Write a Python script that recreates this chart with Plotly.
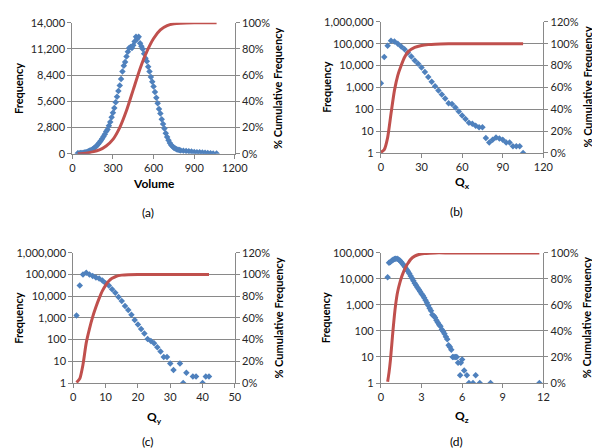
import plotly.graph_objects as go

# ---------------- DATA ----------------
# (a) Volume
vol_x = [40, 50, 60, 70, 80, 90, 100, 110, 120, 130, 140, 150, 160, 170, 180, 190, 200,
         210, 220, 230, 240, 250, 260, 270, 280, 290, 300, 310, 320, 330, 340, 350, 360,
         370, 380, 390, 400, 410, 420, 430, 440, 450, 460, 470, 480, 490, 500, 510, 520,
         530, 540, 550, 560, 570, 580, 590, 600, 610, 620, 630, 640, 650, 660, 670, 680,
         690, 700, 710, 720, 730, 740, 750, 760, 770, 780, 790, 800, 820, 840, 860, 880,
         900, 920, 940, 960, 980, 1000, 1020, 1040, 1065]
vol_freq = [60, 70, 80, 100, 120, 150, 180, 220, 280, 350, 420, 500, 600, 720, 860, 1020, 1200,
            1400, 1600, 1850, 2100, 2400, 2600, 3000, 3400, 3900, 4400, 4900, 5500, 6100, 6700, 7300, 8000,
            8800, 9400, 9800, 10400, 10900, 11300, 11400, 11300, 11600, 12000, 12500, 12300, 12500, 11800, 11500, 11200,
            10700, 10200, 9900, 9300, 8800, 8200, 7700, 7200, 6600, 6000, 5400, 4800, 4300, 3700, 3200, 2700,
            2200, 1800, 1450, 1150, 950, 780, 650, 560, 490, 440, 400, 370, 330, 300, 270, 240,
            210, 180, 160, 140, 110, 90, 70, 50, 30]
vol_cum_x = [40, 100, 150, 200, 250, 300, 350, 400, 450, 500, 550, 600, 650, 700, 750, 800, 900, 1000, 1065]
vol_cum_pct = [0, 0.5, 1.5, 3, 6, 11, 20, 33, 49, 65, 78, 88, 94.5, 97.8, 99.2, 99.7, 100, 100, 100]

# (b) Qx
qx_x = [0, 2.5, 5, 7.5, 10, 12.5, 15, 17.5, 20, 22.5, 25, 27.5, 30, 32.5, 35, 37.5, 40, 42.5,
        45, 47.5, 50, 52.5, 55, 57.5, 60, 62.5, 65, 67.5, 70, 72.5, 75, 77.5, 80, 82.5, 85,
        87.5, 90, 92.5, 95, 97.5, 100, 102.5, 105]
qx_freq = [1550, 24500, 80000, 134000, 126000, 100000, 75000, 55000, 38000, 26000, 17000, 12000,
           8200, 5000, 3000, 1800, 1130, 720, 465, 310, 185, 172, 118, 79, 52, 36, 24, 21.5, 17.5,
           15, 15, 4.8, 3, 4, 5, 4.5, 4, 3, 3, 2, 2, 2, 1]
qx_cum_x = [0, 2.5, 5, 7.5, 10, 12.5, 15, 17.5, 20, 25, 30, 35, 40, 50, 60, 80, 105]
qx_cum_pct = [0.5, 3, 14, 36, 57, 71, 80, 87.5, 92.5, 96.5, 98.3, 99.1, 99.5, 99.8, 99.9, 100, 100]

# (c) Qy
qy_x = [1, 2, 3, 4, 5, 6, 7, 8, 9, 10, 11, 12, 13, 14, 15, 16, 17, 18, 19, 20, 21, 22, 23, 24,
        25, 26, 27, 28, 29, 30, 31, 33, 34, 35, 37, 38, 40, 41, 42]
qy_freq = [1300, 31000, 100000, 120000, 100000, 85000, 74000, 66000, 54000, 40000, 31000, 21000,
           14500, 9300, 6000, 3550, 2300, 1400, 810, 500, 310, 190, 107, 87, 69, 45, 28, 16, 16,
           8, 4, 8, 1, 3, 2, 2, 1, 2, 2]
qy_cum_x = [1, 2, 3, 4, 5, 6, 7, 8, 9, 10, 11, 12, 13, 14, 15, 17, 20, 30, 42]
qy_cum_pct = [0.5, 4, 17, 37, 50, 61, 70, 78, 85, 90, 94, 96.5, 98, 99, 99.5, 99.9, 100, 100, 100]

# (d) Qz
qz_x = [0.5, 0.6, 0.7, 0.8, 0.9, 1.0, 1.1, 1.2, 1.3, 1.4, 1.5, 1.6, 1.7, 1.8, 1.9, 2.0, 2.1, 2.2,
        2.3, 2.4, 2.5, 2.6, 2.7, 2.8, 2.9, 3.0, 3.1, 3.2, 3.3, 3.4, 3.5, 3.6, 3.7, 3.8, 3.9, 4.0,
        4.1, 4.2, 4.3, 4.4, 4.5, 4.6, 4.7, 4.8, 4.9, 5.0, 5.1, 5.2, 5.3, 5.4, 5.5, 5.6, 5.7, 5.85,
        5.9, 6.0, 6.15, 6.35, 6.5, 6.8, 7.0, 7.3, 8.1, 11.7]
qz_freq = [11700, 42000, 45000, 50000, 55000, 58000, 60000, 59000, 56000, 51000, 45000, 38000,
           33000, 28000, 23000, 19500, 16000, 13000, 10500, 8500, 6800, 5700, 4700, 3900, 3300,
           2700, 2300, 1900, 1500, 1200, 950, 750, 600, 420, 380, 330, 260, 210, 175, 150, 115,
           95, 78, 60, 48, 28, 24, 19, 10, 10, 10, 10, 6, 2, 6, 8, 3, 2, 1, 1, 2, 1, 1, 1]
qz_cum_x = [0.5, 0.6, 0.7, 0.8, 0.9, 1.0, 1.1, 1.2, 1.3, 1.4, 1.5, 1.6, 1.8, 2.0, 2.2, 2.5, 2.8,
            3.2, 3.6, 4.0, 5, 6, 8, 11.7]
qz_cum_pct = [1, 8, 17, 29, 41, 52, 61, 68, 73, 77, 80.5, 83.5, 88.5, 92, 95, 97.5, 98.8,
              99.5, 99.8, 100, 100, 100, 100, 100]

log_vals_6 = [1, 10, 100, 1000, 10000, 100000, 1000000]
log_text_6 = ["1", "10", "100", "1,000", "10,000", "100,000", "1,000,000"]

# ---------------- LAYOUT HELPERS ----------------
W, H = 600, 448
def px(x): return x / W
def py(y): return 1 - y / H

BLUE = "#4F81BD"
RED = "#C0504D"
GRID = "#898989"
FONT = "Lato"
TXT = "#262626"

fig = go.Figure()

panels = [
    (vol_x, vol_freq, vol_cum_x, vol_cum_pct, "x", "y", "y2"),
    (qx_x, qx_freq, qx_cum_x, qx_cum_pct, "x2", "y3", "y4"),
    (qy_x, qy_freq, qy_cum_x, qy_cum_pct, "x3", "y5", "y6"),
    (qz_x, qz_freq, qz_cum_x, qz_cum_pct, "x4", "y7", "y8"),
]
for xd, yd, cx, cy, xk, yk, y2k in panels:
    fig.add_trace(go.Scatter(x=xd, y=yd, mode="markers", xaxis=xk, yaxis=yk,
                             marker=dict(symbol="diamond", size=5, color=BLUE,
                                         line=dict(width=0)),
                             showlegend=False, hoverinfo="skip"))
    fig.add_trace(go.Scatter(x=cx, y=cy, mode="lines", xaxis=xk, yaxis=y2k,
                             line=dict(color=RED, width=3, shape="spline", smoothing=0.6),
                             showlegend=False, hoverinfo="skip"))

boxes = {
    "a": (63, 230, 8, 143),
    "b": (380, 547, 7, 142),
    "c": (64, 230, 245, 379),
    "d": (380, 547, 245, 379),
}

def xax(box, rng, dtick, anchor):
    l, r, t, b = box
    return dict(domain=[px(l), px(r)], anchor=anchor, range=rng, dtick=dtick,
                showgrid=False, zeroline=False, showline=True, linecolor=GRID, linewidth=1,
                ticks="outside", ticklen=4, tickcolor=GRID,
                tickfont=dict(family=FONT, size=11, color=TXT))

def yax(box, anchor, **kw):
    l, r, t, b = box
    d = dict(domain=[py(b), py(t)], anchor=anchor,
             showgrid=True, gridcolor=GRID, gridwidth=1, zeroline=False,
             showline=True, linecolor=GRID, linewidth=1,
             ticks="outside", ticklen=4, tickcolor=GRID,
             tickfont=dict(family=FONT, size=11, color=TXT))
    d.update(kw)
    return d

def y2ax(box, anchor, overlay, rng):
    return dict(overlaying=overlay, side="right", anchor=anchor, range=rng, dtick=20,
                ticksuffix="%", showgrid=False, zeroline=False,
                showline=True, linecolor=GRID, linewidth=1,
                ticks="outside", ticklen=4, tickcolor=GRID,
                tickfont=dict(family=FONT, size=11, color=TXT))

fig.update_layout(
    width=W, height=H, margin=dict(l=0, r=0, t=0, b=0),
    paper_bgcolor="white", plot_bgcolor="white",
    xaxis=xax(boxes["a"], [0, 1200], 300, "y"),
    yaxis=yax(boxes["a"], "x", range=[0, 14000], dtick=2800, tickformat=","),
    yaxis2=y2ax(boxes["a"], "x", "y", [0, 100]),
    xaxis2=xax(boxes["b"], [0, 120], 30, "y3"),
    yaxis3=yax(boxes["b"], "x2", type="log", range=[0, 6],
               tickvals=log_vals_6, ticktext=log_text_6),
    yaxis4=y2ax(boxes["b"], "x2", "y3", [0, 120]),
    xaxis3=xax(boxes["c"], [0, 50], 10, "y5"),
    yaxis5=yax(boxes["c"], "x3", type="log", range=[0, 6],
               tickvals=log_vals_6, ticktext=log_text_6),
    yaxis6=y2ax(boxes["c"], "x3", "y5", [0, 120]),
    xaxis4=xax(boxes["d"], [0, 12], 3, "y7"),
    yaxis7=yax(boxes["d"], "x4", type="log", range=[0, 5],
               tickvals=log_vals_6[:6], ticktext=log_text_6[:6]),
    yaxis8=y2ax(boxes["d"], "x4", "y7", [0, 100]),
)

ann = []
titles = [
    ("a", "Volume", 174, 8, 274, "(a)", 203),
    ("b", "Q<sub>x</sub>", 173, 324, 592, "(b)", 202),
    ("c", "Q<sub>y</sub>", 415, 8, 275, "(c)", 439),
    ("d", "Q<sub>z</sub>", 414, 324, 592, "(d)", 439),
]
for key, xt, xty, fx, cfx, lab, laby in titles:
    l, r, t, b = boxes[key]
    cxm = (l + r) / 2
    cym = (t + b) / 2
    ann.append(dict(x=px(cxm), y=py(xty), xref="paper", yref="paper", text="<b>%s</b>" % xt,
                    showarrow=False, font=dict(family=FONT, size=12, color="black"),
                    xanchor="center", yanchor="middle"))
    ann.append(dict(x=px(fx), y=py(cym), xref="paper", yref="paper", text="<b>Frequency</b>",
                    showarrow=False, textangle=-90, font=dict(family=FONT, size=11, color="black"),
                    xanchor="center", yanchor="middle"))
    ann.append(dict(x=px(cfx), y=py(cym), xref="paper", yref="paper",
                    text="<b>% Cumulative Frequency</b>",
                    showarrow=False, textangle=-90, font=dict(family=FONT, size=11, color="black"),
                    xanchor="center", yanchor="middle"))
    ann.append(dict(x=px(cxm - 6), y=py(laby), xref="paper", yref="paper", text=lab,
                    showarrow=False, font=dict(family=FONT, size=12, color="black"),
                    xanchor="center", yanchor="middle"))
fig.update_layout(annotations=ann)

fig.write_html("out.html")
